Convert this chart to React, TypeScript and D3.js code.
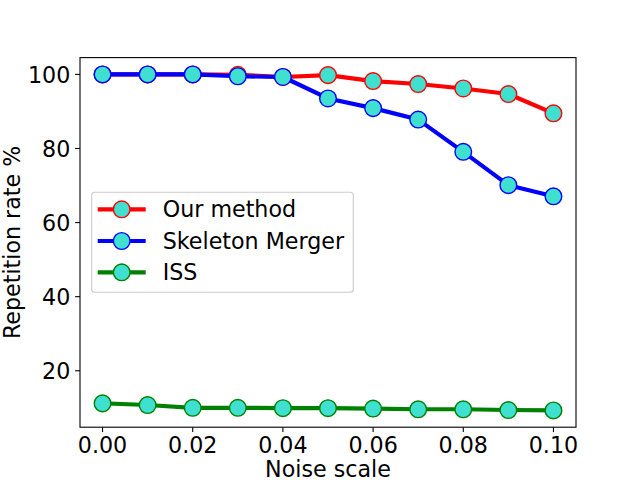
import * as d3 from 'd3';

const noiseScale = [0, 0.01, 0.02, 0.03, 0.04, 0.05, 0.06, 0.07, 0.08, 0.09, 0.1];
const ourMethod = [100, 100, 100, 99.9, 99.3, 99.8, 98.2, 97.4, 96.2, 94.7, 89.5];
const skeletonMerger = [100, 100, 100, 99.5, 99.3, 93.5, 90.9, 87.8, 79.1, 70.1, 67.1];
const iss = [11.2, 10.75, 10.0, 10.0, 9.9, 9.9, 9.8, 9.6, 9.6, 9.4, 9.3];

const xTicks = [0, 0.02, 0.04, 0.06, 0.08, 0.1];
const yTicks = [20, 40, 60, 80, 100];

const seriesNames = ['Our method', 'Skeleton Merger', 'ISS'];
const seriesColors = ['#ff0000', '#0000ff', '#008000'];
const seriesValues = [ourMethod, skeletonMerger, iss];

const width = 640;
const height = 480;
const margin = { top: 57.6, right: 64, bottom: 52.8, left: 80 };
const font = 'DejaVu Sans, sans-serif';
const fontSize = 22.2;
const capH = 16.2;
const markerFill = '#40e0d0';
const lineWidth = 4.17;
const markerR = 8.33;

export default function App() {
  const innerW = width - margin.left - margin.right;
  const innerH = height - margin.top - margin.bottom;

  const xPad = (0.1 - 0) * 0.05;
  const x = d3.scaleLinear().domain([0 - xPad, 0.1 + xPad]).range([margin.left, margin.left + innerW]);

  const all = seriesValues.flat();
  const [lo, hi] = d3.extent(all) as [number, number];
  const yPad = (hi - lo) * 0.05;
  const y = d3.scaleLinear().domain([lo - yPad, hi + yPad]).range([margin.top + innerH, margin.top]);

  const line = d3.line<number>()
    .x((_, i) => x(noiseScale[i]))
    .y(d => y(d));

  const tickLen = 4.86;
  const bottom = margin.top + innerH;

  // legend geometry
  const legX = 91.7, legY = 192.3, legW = 261.6, legH = 100;
  const rowY = [209.3, 241, 272.3];

  return (
    <svg width={width} height={height} style={{ position: 'absolute', left: 0, top: 0, fontFamily: font }}>
      <rect x={0} y={0} width={width} height={height} fill="white" />

      {seriesValues.map((vals, s) => (
        <g key={seriesNames[s]}>
          <path d={line(vals) ?? ''} fill="none" stroke={seriesColors[s]} strokeWidth={lineWidth} strokeLinejoin="round" strokeLinecap="square" />
          {vals.map((v, i) => (
            <circle key={i} cx={x(noiseScale[i])} cy={y(v)} r={markerR} fill={markerFill} stroke={seriesColors[s]} strokeWidth={1.39} />
          ))}
        </g>
      ))}

      <rect x={margin.left} y={margin.top} width={innerW} height={innerH} fill="none" stroke="black" strokeWidth={1.1} />

      {xTicks.map(t => (
        <g key={t}>
          <line x1={x(t)} x2={x(t)} y1={bottom} y2={bottom + tickLen} stroke="black" strokeWidth={1.1} />
          <text x={x(t)} y={bottom + tickLen + 4.86 + capH} textAnchor="middle" fontSize={fontSize}>{d3.format('.2f')(t)}</text>
        </g>
      ))}

      {yTicks.map(t => (
        <g key={t}>
          <line x1={margin.left} x2={margin.left - tickLen} y1={y(t)} y2={y(t)} stroke="black" strokeWidth={1.1} />
          <text x={margin.left - tickLen - 4.86} y={y(t) + capH / 2} textAnchor="end" fontSize={fontSize}>{t}</text>
        </g>
      ))}

      <text x={margin.left + innerW / 2} y={476.5} textAnchor="middle" fontSize={fontSize}>Noise scale</text>
      <text transform={`translate(19.5,${margin.top + innerH / 2}) rotate(-90)`} textAnchor="middle" fontSize={fontSize}>Repetition rate %</text>

      <rect x={legX} y={legY} width={legW} height={legH} rx={3} fill="white" fillOpacity={0.8} stroke="#cccccc" strokeWidth={1.1} />
      {seriesNames.map((name, s) => (
        <g key={name}>
          <line x1={97.7} x2={145.7} y1={rowY[s]} y2={rowY[s]} stroke={seriesColors[s]} strokeWidth={lineWidth} />
          <circle cx={121.7} cy={rowY[s]} r={markerR} fill={markerFill} stroke={seriesColors[s]} strokeWidth={1.39} />
          <text x={162.7} y={rowY[s] + capH / 2} fontSize={fontSize}>{name}</text>
        </g>
      ))}
    </svg>
  );
}
